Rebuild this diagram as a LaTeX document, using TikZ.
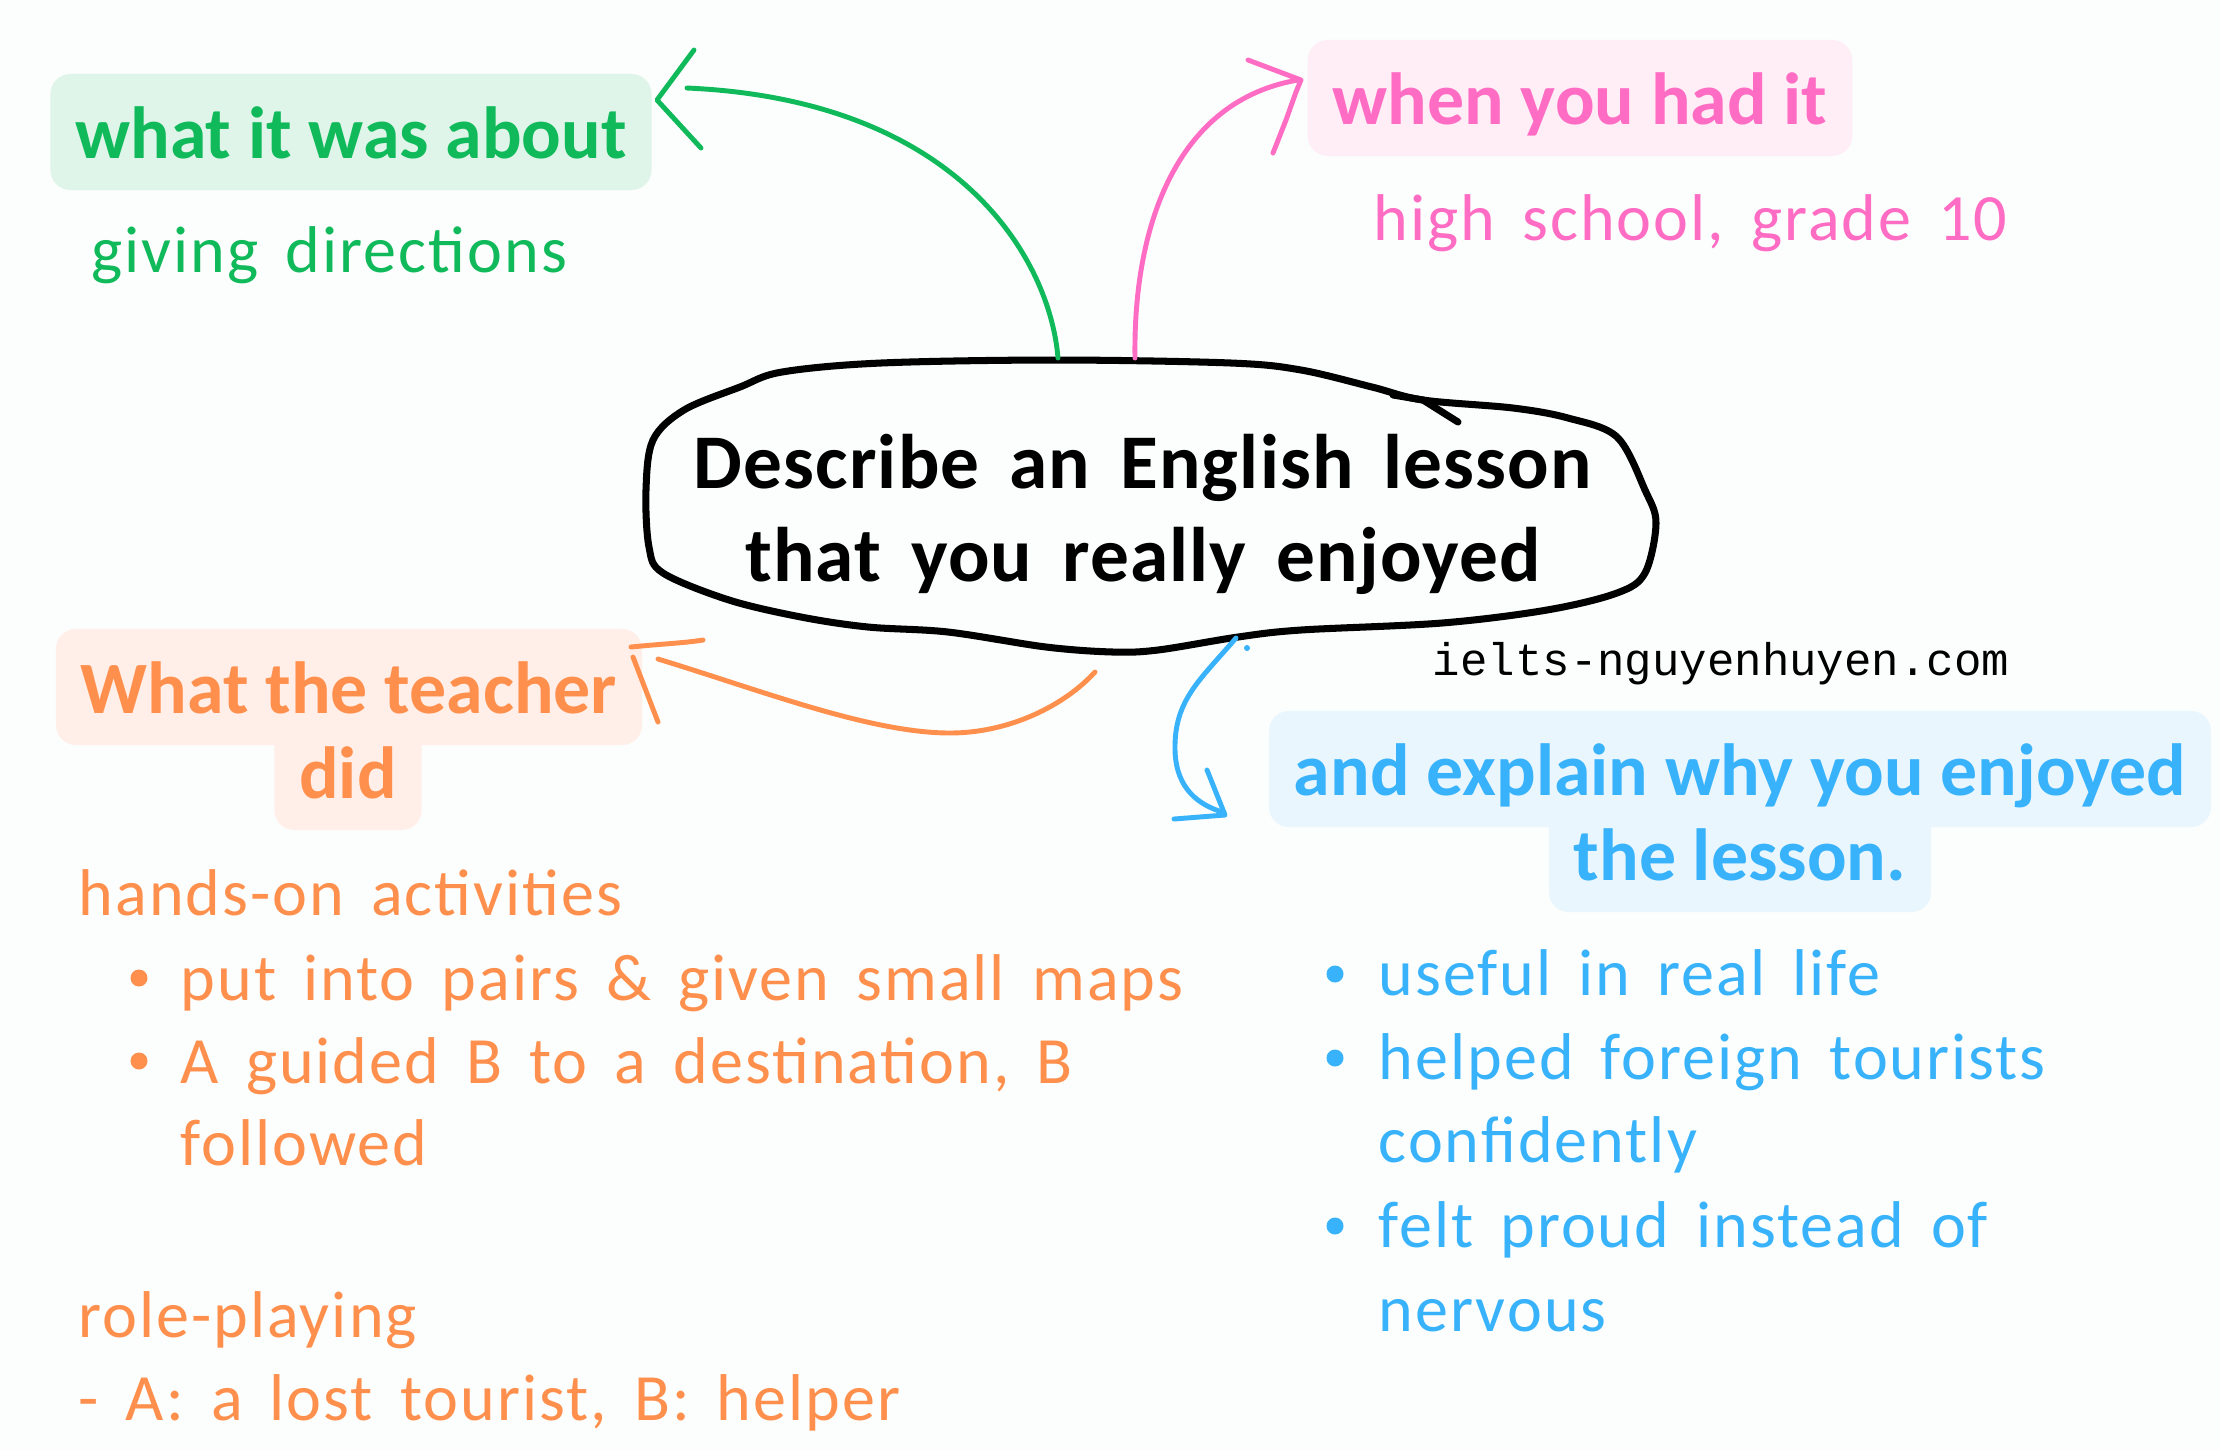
\documentclass[tikz,border=0pt]{standalone}
\usepackage{fontspec}
\setmainfont{Carlito}
\setmonofont{Liberation Mono}
\newfontfamily\notefamily{Carlito}[WordSpace=1.6, LetterSpace=3]
\newfontfamily\topicfamily{Carlito}[WordSpace=1.6, LetterSpace=1.5]
\usepackage{tikz}
\usetikzlibrary{calc}

\definecolor{paper}{RGB}{251,254,253}
\definecolor{grn}{RGB}{16,185,90}
\definecolor{grnfill}{RGB}{223,245,234}
\definecolor{pnk}{RGB}{255,108,196}
\definecolor{pnkfill}{RGB}{255,238,246}
\definecolor{org}{RGB}{255,143,76}
\definecolor{orgfill}{RGB}{255,239,232}
\definecolor{blu}{RGB}{56,178,250}
\definecolor{blufill}{RGB}{234,246,254}

\newcommand{\topicfont}{\topicfamily\fontsize{22}{26.5}\selectfont\bfseries}
\newcommand{\headfont}{\fontsize{21}{25}\selectfont\bfseries}
\newcommand{\notefont}{\notefamily\fontsize{18.8}{23}\selectfont}

\tikzset{
  headbox/.style={rounded corners=0.2cm, inner xsep=0.25cm, inner ysep=0pt,
    text height=0.84cm, text depth=0.32cm, anchor=base, font=\headfont},
  note/.style={anchor=base west, inner sep=0pt, font=\notefont},
  sketch/.style={line width=1.4pt, line cap=round, line join=round},
  dot/.style={radius=8.5},
}

\begin{document}
\begin{tikzpicture}[x=0.01cm, y=-0.01cm]
			%%%%% START %%%%%
			
			\fill[paper] (0,0) rectangle (2220,1450);
			
			% central cloud
			\draw[line width=2pt, line cap=round, line join=round] plot[smooth cycle, tension=0.55] coordinates {
				(782,372) (881,363) (1056,360) (1231,363) (1301,370) (1372,387) (1423,400)
				(1513,408) (1568,418) (1617,437) (1645,490) (1656,523) (1645,573) (1617,593)
				(1547,610) (1442,623) (1301,630) (1238,637) (1158,650) (1113,652) (1046,647)
				(948,632) (868,627) (801,617) (729,600) (663,573) (649,547) (646,490)
				(653,440) (684,410) (740,387)};
			\draw[line width=2pt, line cap=round] (1393,395) -- (1423,400) -- (1458,422);
			\node[font=\topicfont, align=center] (topic) at (1143,514) {Describe an English lesson\\that you really enjoyed};
			
			\node[font=\ttfamily\fontsize{13}{15}\selectfont, anchor=base] (site) at (1721,675) {ielts-nguyenhuyen.com};
			
			% branch labels
			\node[headbox, fill=grnfill, text=grn] (about) at (351,158) {what it was about};
			\node[headbox, fill=pnkfill, text=pnk] (when) at (1580,124) {when you had it};
			\node[headbox, fill=orgfill, text=org] (teacher2) at (348,798) {did};
			\node[headbox, fill=orgfill, text=org] (teacher) at (349,713) {What the teacher};
			\node[headbox, fill=blufill, text=blu] (why2) at (1740,880) {the lesson.};
			\node[headbox, fill=blufill, text=blu] (why) at (1740,795) {and explain why you enjoyed};
			
			% connectors
			\coordinate (gStart) at (1058,358);
			\coordinate (gEnd) at (687,88);
			\coordinate (pStart) at (1135,358);
			\coordinate (pEnd) at (1298,80);
			\coordinate (oStart) at (1095,672);
			\coordinate (oEnd) at (658,659);
			\coordinate (bStart) at (1236,638);
			\coordinate (bEnd) at (1222,812);
			
			\draw[sketch, grn] (gStart) .. controls (1050,260) and (960,100) .. (gEnd);
			\draw[sketch, grn] (694,50) -- (657,100) -- (701,148);
			
			\draw[sketch, pnk] (pStart) .. controls (1133,220) and (1180,100) .. (pEnd);
			\draw[sketch, pnk] (1248,60) -- (1301,80) -- (1296,92) -- (1286,120) -- (1273,153);
			
			\draw[sketch, org] (oStart) .. controls (1065,705) and (1010,733) .. (950,733)
				.. controls (870,733) and (760,690) .. (oEnd);
			\draw[sketch, org] (631,647) .. controls (660,644) and (685,643) .. (703,640);
			\draw[sketch, org] (633,657) -- (658,722);
			
			\draw[sketch, blu] (bStart) .. controls (1200,680) and (1174,700) .. (1175,750)
				.. controls (1176,790) and (1200,805) .. (bEnd);
			\draw[sketch, blu] (1207,770) -- (1225,815) -- (1174,819);
			\fill[blu] (1247,648) circle (3);
			
			% notes
			\node[note, text=grn] (dir) at (91,272) {giving directions};
			\node[note, text=pnk] (grade) at (1373,240) {high school, grade 10};
			
			\node[note, text=org] (hands) at (78,915) {hands-on activities};
			\fill[org] (139,978) circle[dot];
			\node[note, text=org] (pairs) at (180,1000) {put into pairs \& given small maps};
			\fill[org] (139,1061) circle[dot];
			\node[note, text=org] (guide) at (180,1083) {A guided B to a destination, B};
			\node[note, text=org] (follow) at (180,1165) {followed};
			\node[note, text=org] (role) at (78,1337) {role-playing};
			\node[note, text=org] (lost) at (78,1420) {- A: a lost tourist, B: helper};
			
			\fill[blu] (1335,974) circle[dot];
			\node[note, text=blu] (useful) at (1378,995) {useful in real life};
			\fill[blu] (1335,1058) circle[dot];
			\node[note, text=blu] (helped) at (1378,1079) {helped foreign tourists};
			\node[note, text=blu] (confid) at (1378,1162) {confidently};
			\fill[blu] (1335,1226) circle[dot];
			\node[note, text=blu] (proud) at (1378,1247) {felt proud instead of};
			\node[note, text=blu] (nerv) at (1378,1331) {nervous};
			
			%%%%% END %%%%%
\end{tikzpicture}
\end{document}
